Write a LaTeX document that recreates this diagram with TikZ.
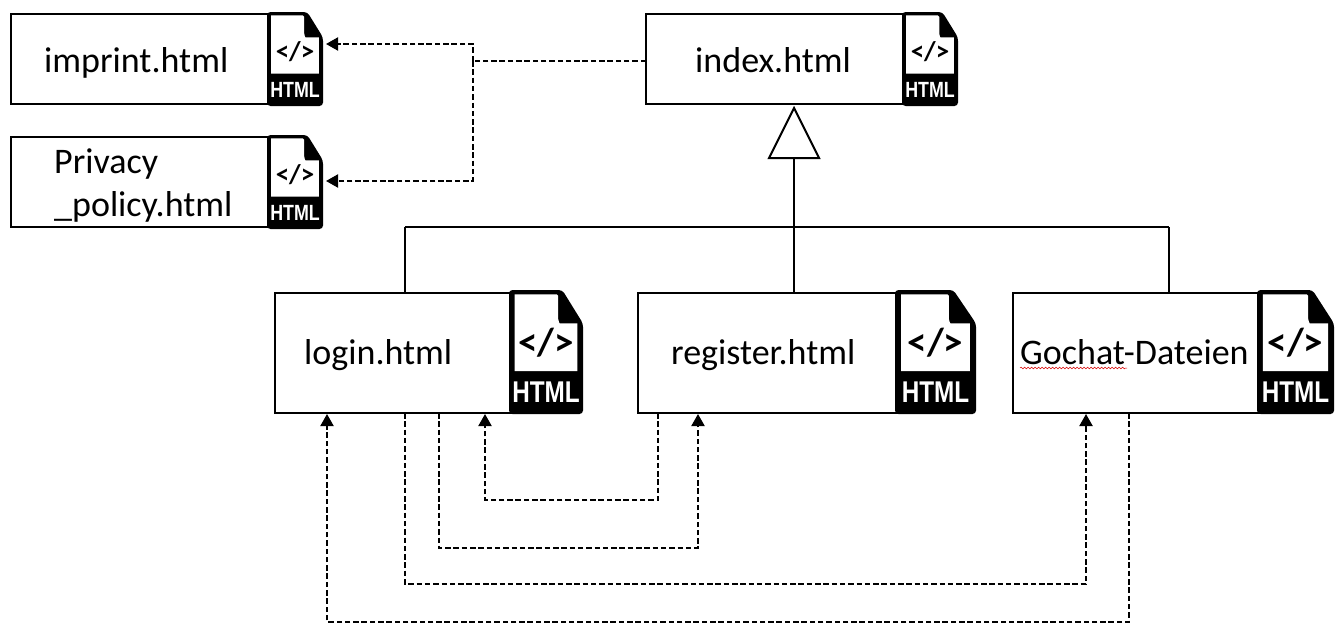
\documentclass[tikz,border=0pt]{standalone}
\usepackage{fontspec}
\setmainfont{Carlito}
\newfontfamily\icontype{Liberation Sans}
\usetikzlibrary{arrows.meta,calc,decorations.pathmorphing}
\tikzset{
  filebox/.style={draw=black,line width=2pt,fill=white,anchor=north west,inner sep=0pt,outer sep=0pt},
  lbl/.style={font=\fontsize{36}{43}\selectfont,text=black,inner sep=0pt,anchor=base west},
  dep/.style={draw=black,line width=2pt,dash pattern=on 5.5pt off 2.8pt,-{Triangle[length=12pt,width=13pt]}},
  gen/.style={draw=black,line width=2pt},
  iconhit/.style={anchor=north west,inner sep=0pt,outer sep=0pt},
}
\newcommand{\htmlicon}[7]{%
  \begin{scope}[shift={(#2,#3)},x=#4pt,y=-#5pt]
    \fill[black,rounded corners=3.5pt] (0,0) -- (.72,0) -- (1,.27) -- (1,1) -- (0,1) -- cycle;
    \fill[white,rounded corners=1.5pt] (.075,.035) -- (.665,.035) -- (.665,.245) [sharp corners] -- (.685,.27) -- (.925,.27) -- (.925,.655) -- (.075,.655) -- cycle;
    \node[inner sep=0pt,font=\fontsize{#6}{#6}\selectfont\bfseries] (#1tag) at (.5,.425) {</>};
    \node[inner sep=0pt,text=white,xscale=.81,font=\icontype\fontsize{#7}{#7}\selectfont\bfseries] (#1type) at (.5,.825) {HTML};
    \node[iconhit,minimum width=#4pt,minimum height=#5pt] (#1) at (0,0) {};
  \end{scope}}
\begin{document}
\begin{tikzpicture}[x=1pt,y=-1pt]
\useasboundingbox (0,0) rectangle (1337,632);
% boxes
\node[filebox,minimum width=258pt,minimum height=90pt] (imprint) at (11,14) {};
\node[filebox,minimum width=258pt,minimum height=90pt] (privacy) at (11,137) {};
\node[filebox,minimum width=258pt,minimum height=90pt] (index) at (646,14) {};
\node[filebox,minimum width=237pt,minimum height=120pt] (login) at (275,293) {};
\node[filebox,minimum width=259pt,minimum height=120pt] (register) at (638,293) {};
\node[filebox,minimum width=246pt,minimum height=120pt] (gochat) at (1013,293) {};
% icons
\htmlicon{imprinticon}{267}{12}{56}{94}{27}{22}
\htmlicon{privacyicon}{267}{135}{56}{94}{27}{22}
\htmlicon{indexicon}{902}{12}{56}{94}{27}{22}
\htmlicon{loginicon}{509}{290}{74}{124}{39}{30}
\htmlicon{registericon}{895}{290}{81}{124}{39}{30}
\htmlicon{gochaticon}{1257}{290}{77}{124}{39}{30}
% labels
\node[lbl] (imprintlabel) at (44,72) {imprint.html};
\node[lbl,align=left,anchor=north west] (privacylabel) at (54,149) {Privacy\\\_policy.html};
\node[lbl] (indexlabel) at (695,72) {index.html};
\node[lbl] (loginlabel) at (304,364) {login.html};
\node[lbl] (registerlabel) at (671,364) {register.html};
\node[lbl] (gochatlabel) at (1020,364) {Gochat-Dateien};
\draw[red!85!black,line width=.5pt,decorate,decoration={snake,amplitude=.8pt,segment length=3.5pt}]
  (gochatlabel.base west) ++(0,4) -- ++(107,0);
% inheritance
\coordinate (triangleapex) at (794,108);
\coordinate (trianglebase) at (794,158);
\draw[gen,fill=white,line join=miter] (triangleapex) -- (819,158) -- (769,158) -- cycle;
\draw[gen] (trianglebase) -- (register.north -| trianglebase);
\coordinate (busleft) at (405,227);
\coordinate (busright) at (1169,227);
\draw[gen,line width=1.7pt] (busleft) -- (busright);
\draw[gen,line width=1.7pt] (busleft) -- (busleft |- login.north);
\draw[gen,line width=1.7pt] (busright) -- (busright |- gochat.north);
% dashed: index to imprint / privacy
\coordinate (split) at (473,61);
\draw[dep,-] (index.west |- split) -- (split);
\draw[dep] (split) |- ($(imprinticon.east)+(3,-15)$);
\draw[dep] (split) |- ($(privacyicon.east)+(3,-1)$);
% dashed: login and others
\draw[dep] ($(login.south west)+(130,0)$) -- ++(0,171) -| ($(gochat.south west)+(73,1)$);
\draw[dep] ($(login.south west)+(164,0)$) -- ++(0,135) -| ($(register.south west)+(60,1)$);
\draw[dep] ($(register.south west)+(20,0)$) -- ++(0,87) -| ($(login.south west)+(210,1)$);
\draw[dep] ($(gochat.south west)+(116,0)$) -- ++(0,209) -| ($(login.south west)+(52,1)$);
\end{tikzpicture}
\end{document}
